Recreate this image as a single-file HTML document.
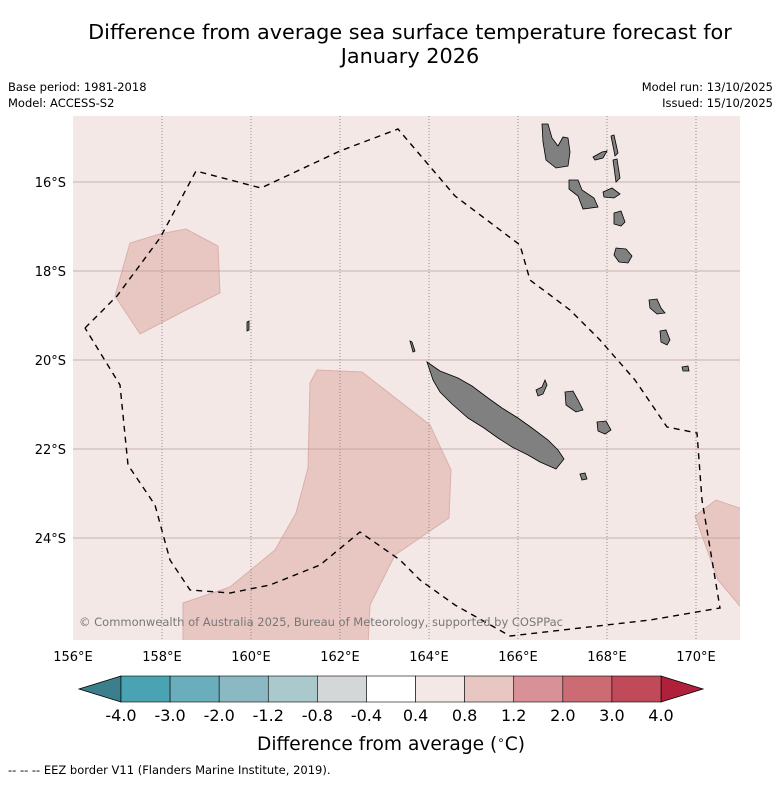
<!DOCTYPE html>
<html><head><meta charset="utf-8"><style>
body{margin:0;background:#fff;font-family:"Liberation Sans","DejaVu Sans",sans-serif;}
svg text{font-family:"DejaVu Sans","Liberation Sans",sans-serif;}
</style></head><body>
<svg id="chart" width="781" height="781" viewBox="0 0 781 781" xmlns="http://www.w3.org/2000/svg">
<text x="410" y="39" font-size="20.8" text-anchor="middle">Difference from average sea surface temperature forecast for</text>
<text x="410" y="63" font-size="20.8" text-anchor="middle">January 2026</text>
<text x="8" y="91" font-size="11.5">Base period: 1981-2018</text>
<text x="8" y="107" font-size="11.5">Model: ACCESS-S2</text>
<text x="773" y="91" font-size="11.5" text-anchor="end">Model run: 13/10/2025</text>
<text x="773" y="107" font-size="11.5" text-anchor="end">Issued: 15/10/2025</text>
<defs><clipPath id="mapclip"><rect x="73" y="116" width="667" height="524"/></clipPath></defs>
<g id="map" clip-path="url(#mapclip)">
<rect x="73" y="116" width="667" height="524" fill="#f4e8e7"/>
<g fill="#e8c7c2" stroke="#d9b0aa" stroke-width="1">
<polygon points="115,296 130,243 160,234 186,229 218,246 220,293 186,310 140,334"/>
<polygon points="183,645 183,603 230,587 275,550 296,513 308,468 310,383 317,370 362,372 430,425 451,470 449,518 395,555 370,605 368,645"/>
<polygon points="695,516 716,500 745,510 745,612 718,580"/>
</g>
<g id="grid"></g>
<g fill="#808080" stroke="#000" stroke-width="0.8">
<polygon points="427,362 440,371 458,378 472,386 488,398 502,408 518,418 532,428 548,440 558,450 564,459 556,469 540,462 528,455 512,447 498,438 484,428 468,418 452,404 440,392 433,380"/>
<polygon points="542,124 548,124 552,138 558,146 563,137 568,138 570,152 568,166 556,168 546,160 543,142"/>
<polygon points="569,180 578,180 582,190 594,198 598,207 583,209 578,196 569,189"/>
<polygon points="614,213 621,211 625,222 621,226 614,224"/>
<polygon points="616,248 626,249 632,256 628,263 619,262 614,255"/>
<polygon points="611,136 614,135 618,153 615,156"/>
<polygon points="613,160 617,159 620,178 616,182"/>
<polygon points="593,157 602,152 607,151 603,158 595,160"/>
<polygon points="603,192 612,188 620,194 614,198 604,197"/>
<polygon points="649,300 657,299 661,308 665,313 657,314 650,308"/>
<polygon points="660,331 666,330 670,340 667,345 661,342"/>
<polygon points="565,392 573,391 578,400 583,410 576,412 566,405"/>
<polygon points="597,422 606,421 611,430 605,434 598,431"/>
<polygon points="536,390 542,387 545,380 547,385 543,394 538,396"/>
<polygon points="580,474 585,473 587,479 582,480"/>
<polygon points="682,367 688,366 689,371 683,371"/>
<polygon points="247,322 249,321 249,330 247,331"/>
<polygon points="410,341 412,342 415,351 413,352"/>
</g>
<polyline fill="none" stroke="#000" stroke-width="1.4" stroke-dasharray="6,5" points="85,328 117,296 160,238 196,171 261,188 340,151 398,129 455,196 520,245 530,280 570,310 600,340 635,380 667,427 697,433 702,500 720,608 650,620 580,628 510,636 455,605 420,580 400,560 360,532 320,565 270,585 230,593 190,590 170,560 155,505 128,465 120,385 85,328"/>
<text x="79" y="626" font-size="11.5" textLength="484" lengthAdjust="spacingAndGlyphs" fill="#777">© Commonwealth of Australia 2025, Bureau of Meteorology, supported by COSPPac</text>
</g>
<g id="xticks"></g>
<g id="yticks"></g>
<g id="cbar"></g>
<text x="391" y="750" font-size="18.6" text-anchor="middle">Difference from average (<tspan dy="-6" font-size="12">∘</tspan><tspan dy="6">C)</tspan></text>
<text x="8" y="774" font-size="11.5">--  --  -- EEZ border V11 (Flanders Marine Institute, 2019).</text>
</svg>
<script>
const lonTicks=[156,158,160,162,164,166,168,170];
const latTicks=[16,18,20,22,24];
const levels=["-4.0","-3.0","-2.0","-1.2","-0.8","-0.4","0.4","0.8","1.2","2.0","3.0","4.0"];
const levelColors=["#4aa3b3","#6aaebb","#8ab8c3","#a9c9cc","#d4d7d8","#ffffff","#f4e8e7","#e8c7c2","#d89297","#cc6b74","#c04a59"];
const extendColors=["#3c7f8c","#b0203a"];
const NS="http://www.w3.org/2000/svg";
const xs=lon=>73+(lon-156)*44.5;
const ys=lat=>182+(lat-16)*44.5;
function mk(tag,attrs,parent,txt){const e=document.createElementNS(NS,tag);for(const k in attrs)e.setAttribute(k,attrs[k]);if(txt!==undefined)e.textContent=txt;parent.appendChild(e);return e;}
const grid=document.getElementById('grid'),xt=document.getElementById('xticks'),yt=document.getElementById('yticks');
lonTicks.forEach(l=>{
 if(l>156){const g=mk('line',{x1:xs(l),x2:xs(l),y1:116,y2:640,stroke:'#777','stroke-width':0.8,'stroke-dasharray':'1,2'},grid);
 
 }
 const t=mk('text',{x:xs(l),y:661,'font-size':13,'text-anchor':'middle'},xt,l+'°E');
 
 
});
latTicks.forEach(l=>{
 const g=mk('line',{x1:73,x2:740,y1:ys(l),y2:ys(l),stroke:'#b89d9a','stroke-width':0.8},grid);
 
 
 const t=mk('text',{x:66,y:ys(l)+5,'font-size':13,'text-anchor':'end'},yt,l+'°S');
 
 
});
const cb=document.getElementById('cbar');
const x0=121,x1=661,y0=676,y1=702,n=levelColors.length,w=(x1-x0)/n;
const lt=mk('polygon',{points:`${x0},${y0} ${x0},${y1} 79,${(y0+y1)/2}`,fill:extendColors[0],stroke:'#000','stroke-width':0.8},cb);


const rt=mk('polygon',{points:`${x1},${y0} ${x1},${y1} 703,${(y0+y1)/2}`,fill:extendColors[1],stroke:'#000','stroke-width':0.8},cb);


levelColors.forEach((c,i)=>{
 const r=mk('rect',{x:x0+i*w,y:y0,width:w,height:y1-y0,fill:c,stroke:'#000','stroke-width':0.6},cb);
 
 
});
levels.forEach((s,i)=>{
 const t=mk('text',{x:x0+i*w,y:721,'font-size':16,'text-anchor':'middle'},cb,s);
 
 
});
</script>
</body></html>
